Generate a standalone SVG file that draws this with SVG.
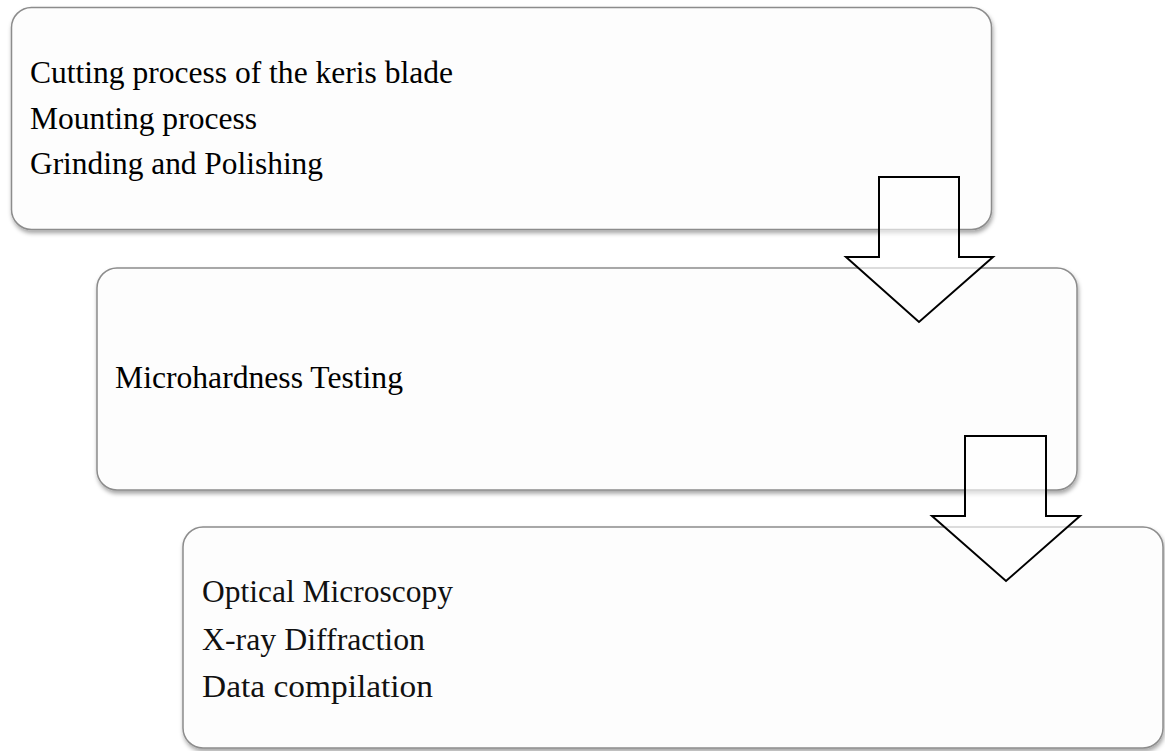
<svg xmlns="http://www.w3.org/2000/svg" width="1165" height="751" viewBox="0 0 1165 751">
<defs>
<filter id="sh" x="-5%" y="-5%" width="110%" height="115%">
<feDropShadow dx="1" dy="3" stdDeviation="2" flood-color="#000" flood-opacity="0.35"/>
</filter>
<style>
.box{fill:#fdfdfd;stroke:#8c8c8c;stroke-width:1.5;filter:url(#sh)}
.t{font-family:"Liberation Serif","Times New Roman",serif;font-size:31.3px;fill:#000}
.c{font-family:"Liberation Serif","Times New Roman",serif;font-size:31px;fill:#111}
.arr{fill:#fff;fill-opacity:0.6;stroke:#000;stroke-width:2;stroke-linejoin:miter}
</style>
</defs>
<rect width="1165" height="751" fill="#fff"/>
<g id="node1">
<rect class="box" x="11.5" y="7.5" width="980" height="222" rx="20" ry="20"/>
<text class="t" x="30" y="83" textLength="423" lengthAdjust="spacingAndGlyphs">Cutting process of the keris blade</text>
<text class="t" x="30" y="128.5" textLength="227" lengthAdjust="spacingAndGlyphs">Mounting process</text>
<text class="t" x="30" y="174" textLength="293" lengthAdjust="spacingAndGlyphs">Grinding and Polishing</text>
</g>
<g id="node2">
<rect class="box" x="97" y="268" width="980" height="222" rx="20" ry="20"/>
<text class="t" x="115" y="388" textLength="288" lengthAdjust="spacingAndGlyphs">Microhardness Testing</text>
</g>
<g id="node3">
<rect class="box" x="183" y="527" width="980" height="221" rx="20" ry="20"/>
<text class="c" x="202" y="602" textLength="251" lengthAdjust="spacingAndGlyphs">Optical Microscopy</text>
<text class="c" x="202" y="649.5" textLength="223" lengthAdjust="spacingAndGlyphs">X-ray Diffraction</text>
<text class="c" x="202" y="697" textLength="231" lengthAdjust="spacingAndGlyphs">Data compilation</text>
</g>
<g id="connectors">
<polygon class="arr" points="879,177 959,177 959,257 993,257 919,322 846,257 879,257"/>
<polygon class="arr" points="965,436 1046,436 1046,516 1080,516 1006,581 932,516 965,516"/>
</g>
</svg>
